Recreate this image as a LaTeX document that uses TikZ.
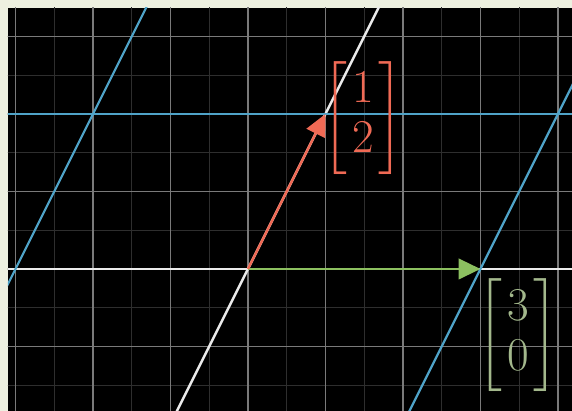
\documentclass[tikz,border=0pt]{standalone}
\usepackage{amsmath}
\usepackage{xcolor}
\usepackage{tikz}
\usetikzlibrary{positioning,arrows.meta,calc}
\definecolor{cfondo}{HTML}{EDF0E0}
\definecolor{crojo}{HTML}{F06A55}
\definecolor{cverde}{HTML}{8CC060}
\definecolor{cverdeg}{HTML}{A3B88C}
\definecolor{cazul}{HTML}{4FA3C8}
\definecolor{cgris}{HTML}{7A7A7A}
\definecolor{cgrisos}{HTML}{2E2E2E}
\tikzset{
  rejilla/.style={draw=cgris, line width=0.7pt},
  rejillam/.style={draw=cgrisos, line width=0.4pt},
  recta/.style={draw=white!92!black, line width=0.9pt},
  rectaz/.style={draw=cazul, line width=0.8pt},
  flecha/.style={-{Triangle[length=8pt,width=7.5pt]}, line width=0.9pt},
  matriz/.style={font=\fontsize{17}{18.3}\selectfont, inner sep=0pt},
}
\newcommand{\ent}[1]{\hspace{1.6pt}#1\hspace{1.6pt}}

\begin{document}
\begin{tikzpicture}[x=1cm,y=1cm]
  % fondo y plano
  \fill[cfondo] (-3.2,-1.832) rectangle (4.181,3.471);
  \useasboundingbox (-3.2,-1.832) rectangle (4.181,3.471);
  \fill[black] (-3.097,-1.832) rectangle (4.181,3.368);

  \coordinate (o) at (0,0);
  \coordinate (v) at (1,2);
  \coordinate (w) at (3,0);

  \begin{scope}
    \clip (-3.097,-1.832) rectangle (4.181,3.368);
    \draw[rejillam, step=0.5] (-3.5,-2) grid (4.5,3.5);
    \draw[rejilla, step=1] (-3.5,-2) grid (4.5,3.5);

    % rectas por el origen
    \draw[recta] ($(o)-(8,0)$) -- ($(o)+(8,0)$);
    \draw[recta] ($(o)-3*(v)$) -- ($(o)+3*(v)$);

    % rectas trasladadas
    \draw[rectaz] ($(v)-(8,0)$) -- ($(v)+(8,0)$);
    \draw[rectaz] ($(w)-3*(v)$) -- ($(w)+3*(v)$);
    \draw[rectaz] ($(o)-(w)-3*(v)$) -- ($(o)-(w)+3*(v)$);
  \end{scope}

  \draw[flecha, draw=cverde, fill=cverde] (o) -- (w);
  \draw[flecha, draw=crojo, fill=crojo] (o) -- (v);

  \node[matriz, text=crojo, right=-0.04cm of v, yshift=-0.05cm] (mv) {$\begin{bmatrix}\ent{1}\\\ent{2}\end{bmatrix}$};
  \node[matriz, text=cverdeg, below right=0.12cm and -0.04cm of w] (mw) {$\begin{bmatrix}\ent{3}\\\ent{0}\end{bmatrix}$};
\end{tikzpicture}
\end{document}
